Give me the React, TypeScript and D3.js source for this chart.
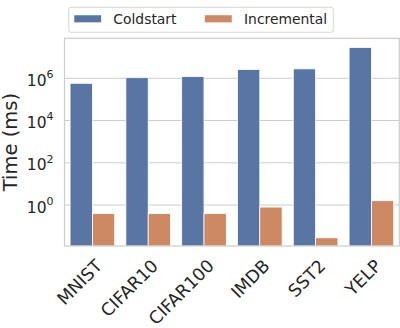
import React from "react";
import * as d3 from "d3";

const categories = ["MNIST", "CIFAR10", "CIFAR100", "IMDB", "SST2", "YELP"];
const seriesNames = ["Coldstart", "Incremental"];
const coldstart = [5.8e5, 1.07e6, 1.2e6, 2.6e6, 2.8e6, 2.9e7];
const incremental = [0.39, 0.39, 0.39, 0.8, 0.028, 1.6];
const yTickExponents = [0, 2, 4, 6];
const yLabel = "Time (ms)";

const colors = ["#5975a4", "#cc8963"];
const W = 400;
const H = 328;
const M = { left: 64.5, right: 399.3, top: 38.3, bottom: 246 };
const textColor = "#262626";
const font = "DejaVu Sans, sans-serif";

export default function App() {
  const x = d3
    .scaleBand<string>()
    .domain(categories)
    .range([M.left, M.right])
    .paddingInner(0.2)
    .paddingOuter(0.1);
  const xs = d3.scaleBand<string>().domain(seriesNames).range([0, x.bandwidth()]);
  const y = d3
    .scaleLog()
    .domain([Math.pow(10, -1.94), Math.pow(10, 7.894)])
    .range([M.bottom, M.top]);
  const values = [coldstart, incremental];

  return (
    <svg
      width={W}
      height={H}
      style={{ position: "absolute", left: 0, top: 0, background: "#fff" }}
      fontFamily={font}
    >
      {/* grid */}
      {yTickExponents.map((e) => (
        <line
          key={"g" + e}
          x1={M.left}
          x2={M.right}
          y1={y(Math.pow(10, e))}
          y2={y(Math.pow(10, e))}
          stroke="#cccccc"
          strokeWidth={1}
        />
      ))}
      {/* bars */}
      {categories.map((c, i) =>
        seriesNames.map((s, j) => {
          const v = values[j][i];
          const top = y(v);
          return (
            <rect
              key={c + s}
              x={(x(c) as number) + (xs(s) as number)}
              y={top}
              width={xs.bandwidth()}
              height={M.bottom - top}
              fill={colors[j]}
              stroke="#ffffff"
              strokeWidth={0.8}
            />
          );
        })
      )}
      {/* frame */}
      <rect
        x={M.left}
        y={M.top}
        width={M.right - M.left}
        height={M.bottom - M.top}
        fill="none"
        stroke="#cccccc"
        strokeWidth={1.2}
      />
      {/* y tick labels */}
      {yTickExponents.map((e) => (
        <text
          key={"t" + e}
          x={53.5}
          y={y(Math.pow(10, e)) + 7.5}
          textAnchor="end"
          fontSize={15.5}
          fill={textColor}
        >
          10
          <tspan fontSize={11} dy={-7.7}>
            {e}
          </tspan>
        </text>
      ))}
      {/* y label */}
      <text
        transform={`translate(16.7,${(M.top + M.bottom) / 2}) rotate(-90)`}
        textAnchor="middle"
        fontSize={19.5}
        fill={textColor}
      >
        {yLabel}
      </text>
      {/* x tick labels */}
      {categories.map((c) => {
        const cx = (x(c) as number) + x.bandwidth() / 2;
        return (
          <text
            key={"x" + c}
            transform={`translate(${cx + 11},${M.bottom + 21}) rotate(-45)`}
            textAnchor="end"
            fontSize={17.5}
            fill={textColor}
          >
            {c}
          </text>
        );
      })}
      {/* legend */}
      <rect x={68.7} y={7.3} width={264.6} height={25} rx={2.5} fill="#fff" stroke="#d6d6d6" strokeWidth={1} />
      {seriesNames.map((s, j) => {
        const lx = j === 0 ? 74 : 204.7;
        return (
          <g key={"l" + s}>
            <rect x={lx} y={15} width={27.3} height={7.7} fill={colors[j]} stroke="#fff" strokeWidth={0.5} />
            <text x={lx + 39.3} y={24} fontSize={13.9} fill={textColor}>
              {s}
            </text>
          </g>
        );
      })}
    </svg>
  );
}
